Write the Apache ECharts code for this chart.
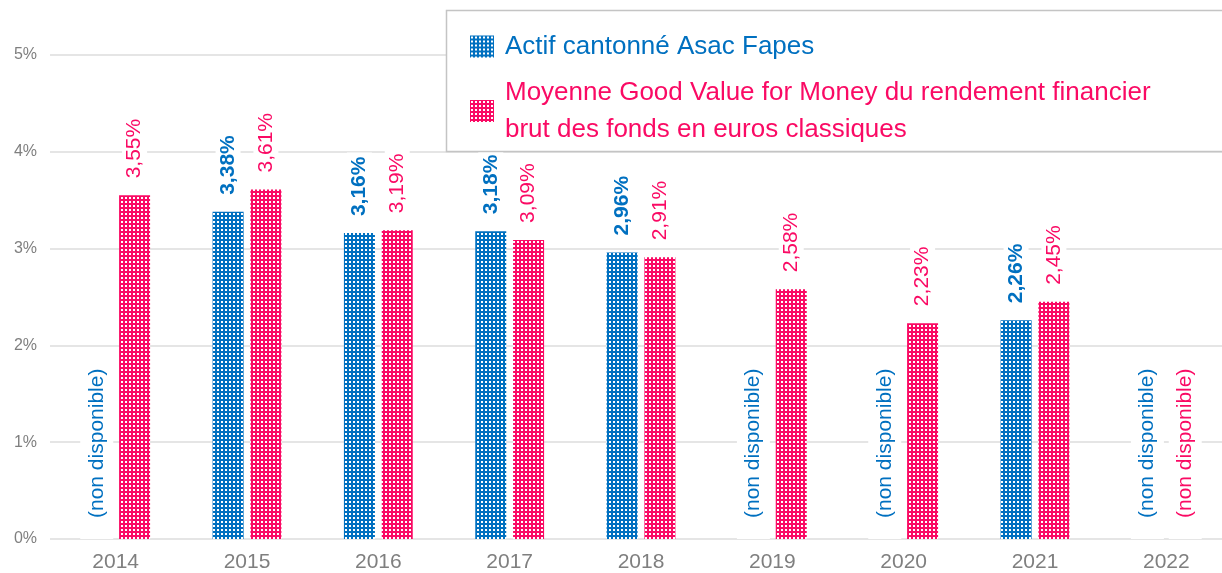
<!DOCTYPE html>
<html>
<head>
<meta charset="utf-8">
<script src="https://cdn.jsdelivr.net/npm/echarts@6/dist/echarts.min.js"></script>
<style>
html,body{margin:0;padding:0;background:#fff;overflow:hidden;}
#chart{width:1300px;height:573px;}
</style>
</head>
<body>
<div id="chart"></div>
<script>
const categories = ['2014','2015','2016','2017','2018','2019','2020','2021','2022'];
const asacValues = [null, 3.38, 3.16, 3.18, 2.96, null, null, 2.26, null];
const gvfmValues = [3.55, 3.61, 3.19, 3.09, 2.91, 2.58, 2.23, 2.45, null];
const seriesNames = ['Actif cantonné Asac Fapes', 'Moyenne Good Value for Money du rendement financier\nbrut des fonds en euros classiques'];
const yTicks = [0, 1, 2, 3, 4, 5];
const naText = '(non disponible)';

const BLUE = '#0070c0';
const PINK = '#fa0a64';
const FONT = '"Liberation Sans", Arial, sans-serif';

function makePattern(color) {
  const c = document.createElement('canvas');
  c.width = 4; c.height = 4;
  const ctx = c.getContext('2d');
  ctx.fillStyle = color;
  ctx.fillRect(0, 0, 4, 4);
  ctx.fillStyle = '#ffffff';
  ctx.fillRect(1, 1, 2, 2);
  return { image: c, repeat: 'repeat' };
}

function fmt(v) { return v.toFixed(2).replace('.', ',') + '%'; }

function buildData(values) {
  return values.map(v => {
    if (v === null) {
      return {
        value: 0,
        itemStyle: { color: 'rgba(0,0,0,0)' },
        label: {
          show: true, formatter: naText, fontWeight: 'normal',
          distance: 0, padding: [6, 4, 6, 21]
        }
      };
    }
    return { value: v };
  });
}

function makeSeries(name, values, color, bold) {
  return {
    name: name,
    type: 'bar',
    barWidth: 31,
    barGap: '22%',
    itemStyle: { color: makePattern(color) },
    label: {
      show: true,
      position: 'top',
      rotate: 90,
      align: 'left',
      verticalAlign: 'middle',
      distance: 14,
      color: color,
      fontFamily: FONT,
      fontSize: 21,
      fontWeight: bold ? 'bold' : 'normal',
      backgroundColor: '#ffffff',
      padding: [2, 4, 2, 3],
      formatter: p => fmt(p.value)
    },
    data: buildData(values)
  };
}

const chart = echarts.init(document.getElementById('chart'), null, { renderer: 'canvas' });
chart.setOption({
  animation: false,
  backgroundColor: '#ffffff',
  grid: { left: 50, top: 55, bottom: 34, width: 1182, containLabel: false },
  graphic: [{
    type: 'rect',
    z: 3,
    silent: true,
    shape: { x: 446.5, y: 10.5, width: 900, height: 141 },
    style: { fill: '#ffffff', stroke: '#c4c4c4', lineWidth: 1.5 }
  }],
  legend: {
    orient: 'vertical',
    left: 446,
    top: 10,
    padding: [18, 20, 6, 24],
    itemGap: 9,
    itemWidth: 24,
    itemHeight: 22,
    icon: 'rect',
    selectedMode: false,
    z: 5,
    data: [
      { name: seriesNames[0], textStyle: { color: BLUE } },
      { name: seriesNames[1], textStyle: { color: PINK } }
    ],
    textStyle: { fontFamily: FONT, fontSize: 26, lineHeight: 37, padding: [0, 0, 0, 6] }
  },
  xAxis: {
    type: 'category',
    data: categories,
    axisLine: { show: false },
    axisTick: { show: false },
    axisLabel: { color: '#7f7f7f', fontFamily: FONT, fontSize: 21, margin: 13 }
  },
  yAxis: {
    type: 'value',
    min: yTicks[0],
    max: yTicks[yTicks.length - 1],
    interval: 1,
    axisLine: { show: false },
    axisTick: { show: false },
    splitLine: { lineStyle: { color: '#dcdcdc', width: 1.5 } },
    axisLabel: { color: '#7f7f7f', fontFamily: FONT, fontSize: 16, margin: 13, formatter: '{value}%' }
  },
  series: [
    makeSeries(seriesNames[0], asacValues, BLUE, true),
    makeSeries(seriesNames[1], gvfmValues, PINK, false)
  ]
});
</script>
</body>
</html>
